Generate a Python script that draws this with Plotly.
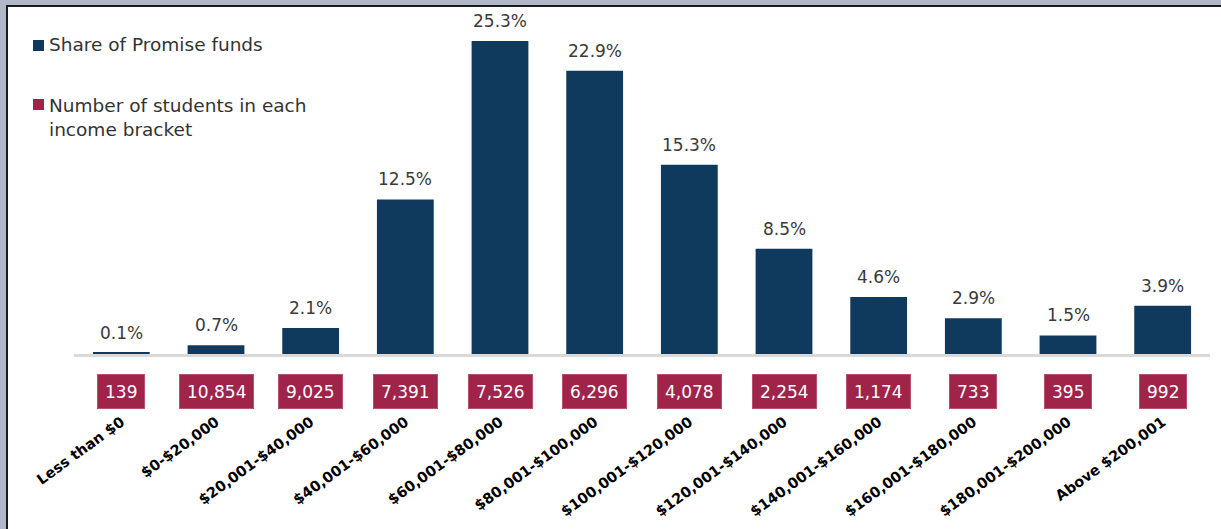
import plotly.graph_objects as go

# Income brackets, share of Promise funds (%) and student counts per bracket
brackets = [
    "Less than $0", "$0-$20,000", "$20,001-$40,000", "$40,001-$60,000",
    "$60,001-$80,000", "$80,001-$100,000", "$100,001-$120,000",
    "$120,001-$140,000", "$140,001-$160,000", "$160,001-$180,000",
    "$180,001-$200,000", "Above $200,001",
]
share_pct = [0.1, 0.7, 2.1, 12.5, 25.3, 22.9, 15.3, 8.5, 4.6, 2.9, 1.5, 3.9]
students = [139, 10854, 9025, 7391, 7526, 6296, 4078, 2254, 1174, 733, 395, 992]

NAVY = "#0f3a5e"
CRIMSON = "#a0234a"
FONT = "DejaVu Sans"

W, H = 1221, 529
ML, MR, MT, MB = 74, 11, 8, 175
PW, PH = W - ML - MR, H - MT - MB


def xp(px):
    """pixel x -> paper x"""
    return (px - ML) / PW


def yp(py):
    """pixel y (from top) -> paper y"""
    return (H - MB - py) / PH


fig = go.Figure()
fig.add_trace(go.Bar(
    x=brackets, y=share_pct, width=0.6,
    marker=dict(color=NAVY, line=dict(width=0)),
    hoverinfo="skip", showlegend=False,
))

annotations = []
# percentage labels above the bars
for b, v in zip(brackets, share_pct):
    annotations.append(dict(
        x=b, y=v, xref="x", yref="y", text=f"{v:.1f}%", showarrow=False,
        yanchor="middle", yshift=20,
        font=dict(family=FONT, size=17, color="#3a3a3a"),
    ))
# student counts in crimson boxes under the axis
for b, n in zip(brackets, students):
    annotations.append(dict(
        x=b, y=yp(391.5), xref="x", yref="paper", text=f"{n:,}",
        showarrow=False, yanchor="middle", height=19,
        bgcolor=CRIMSON, bordercolor="#b6526c", borderwidth=1, borderpad=7,
        font=dict(family=FONT, size=17, color="white"),
    ))
# legend text
annotations += [
    dict(x=xp(47), y=yp(45), xref="paper", yref="paper", xanchor="left",
         yanchor="middle", showarrow=False, align="left",
         text="Share of Promise funds",
         font=dict(family=FONT, size=18.5, color="#333333")),
    dict(x=xp(47), y=yp(117), xref="paper", yref="paper", xanchor="left",
         yanchor="middle", showarrow=False, align="left",
         text="Number of students in each<br>income bracket",
         font=dict(family=FONT, size=18.5, color="#333333")),
]

shapes = [
    # white panel with dark frame on the gray page
    dict(type="rect", xref="paper", yref="paper", layer="below",
         x0=xp(7), y0=yp(545), x1=xp(1240), y1=yp(6),
         fillcolor="white", line=dict(color="#1c1c1c", width=2)),
    # legend swatches
    dict(type="rect", xref="paper", yref="paper",
         x0=xp(33), y0=yp(51), x1=xp(44), y1=yp(40),
         fillcolor=NAVY, line=dict(width=0)),
    dict(type="rect", xref="paper", yref="paper",
         x0=xp(33), y0=yp(110), x1=xp(44), y1=yp(99),
         fillcolor=CRIMSON, line=dict(width=0)),
]

fig.update_layout(
    width=W, height=H,
    margin=dict(l=ML, r=MR, t=MT, b=MB, pad=0, autoexpand=False),
    paper_bgcolor="#b1b8c8",
    plot_bgcolor="rgba(0,0,0,0)",
    showlegend=False,
    bargap=0.4,
    annotations=annotations,
    shapes=shapes,
    xaxis=dict(
        type="category", showline=True, linecolor="#d9d9d9", linewidth=3,
        showgrid=False, ticks="", tickangle=-36, ticklabelstandoff=51,
        tickfont=dict(family=FONT, size=14.5, color="black", weight="bold"),
        automargin=False, fixedrange=True,
    ),
    yaxis=dict(range=[0, PH / 12.37], visible=False, fixedrange=True,
               automargin=False),
)

fig.write_html("out.html")
